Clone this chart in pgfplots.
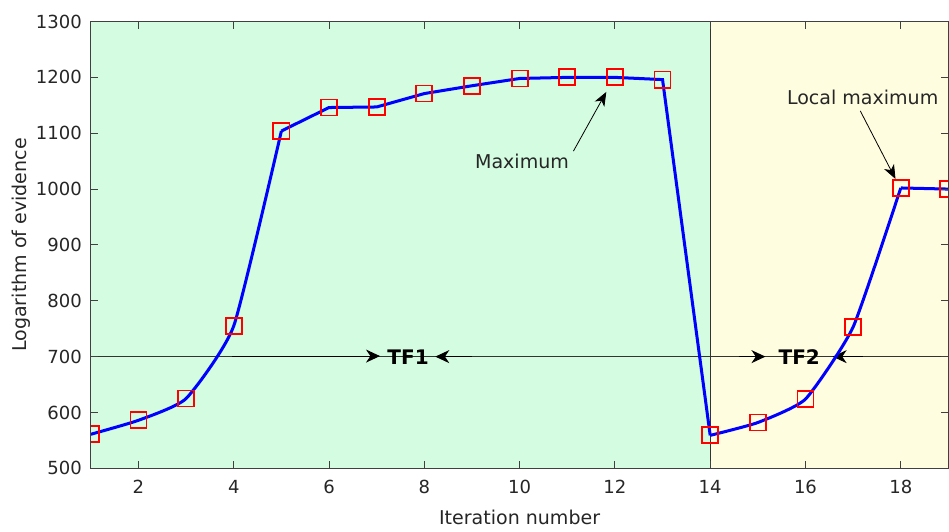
\documentclass[border=0pt]{standalone}
\usepackage{fontspec}
\setmainfont{DejaVu Sans}
\usepackage{pgfplots}
\pgfplotsset{compat=1.18}
\usetikzlibrary{arrows.meta}
\definecolor{bggreen}{RGB}{212,252,224}
\definecolor{bgyellow}{RGB}{255,253,224}
\definecolor{txt}{RGB}{38,38,38}
\begin{document}
\begin{tikzpicture}
\begin{axis}[
    scale only axis,
    width=428pt, height=223pt,
    xmin=1, xmax=19, ymin=500, ymax=1300,
    xtick={2,4,...,18},
    ytick={500,600,...,1300},
    tick align=inside,
    major tick length=3.5pt,
    tick style={color=black!75, line width=0.5pt},
    axis line style={color=black!75, line width=0.6pt},
    axis on top,
    clip=true,
    clip marker paths=true,
    /pgf/number format/1000 sep={},
    /pgf/number format/assume math mode=true,
    tick label style={font=\fontsize{9}{10}\selectfont, text=txt},
    xticklabel style={yshift=-2.5pt},
    yticklabel style={xshift=-1pt},
    label style={font=\fontsize{9.5}{11}\selectfont, text=txt},
    xlabel={Iteration number},
    ylabel={Logarithm of evidence},
    xlabel style={yshift=-1pt},
    ylabel style={yshift=-4pt},
]
% background regions
\addplot[draw=none, fill=bggreen] coordinates {(1,500)(14,500)(14,1300)(1,1300)} -- cycle;
\addplot[draw=none, fill=bgyellow] coordinates {(14,500)(19,500)(19,1300)(14,1300)} -- cycle;
% separators
\addplot[black!80, line width=0.6pt] coordinates {(14,500)(14,1300)};
\addplot[black!80, line width=0.5pt] coordinates {(1,700)(19,700)};
% TF arrows
\addplot[black, line width=0.5pt, -{Stealth[length=7pt,width=6.5pt,inset=2.2pt]}] coordinates {(3.96,701)(7.07,701)};
\addplot[black, line width=0.5pt, -{Stealth[length=7pt,width=6.5pt,inset=2.2pt]}] coordinates {(9.0,700)(8.23,700)};
\addplot[black, line width=0.5pt, -{Stealth[length=7pt,width=6.5pt,inset=2.2pt]}] coordinates {(14.6,700)(15.16,700)};
\addplot[black, line width=0.5pt, -{Stealth[length=7pt,width=6.5pt,inset=2.2pt]}] coordinates {(17.2,700)(16.57,700)};
% annotation arrows
\addplot[black, line width=0.4pt, -{Stealth[length=7pt,width=5.5pt,inset=2pt]}] coordinates {(11.13,1068)(11.82,1174)};
\addplot[black, line width=0.4pt, -{Stealth[length=7pt,width=5.5pt,inset=2pt]}] coordinates {(17.15,1140)(17.89,1018)};
% data
\addplot[blue, line width=1.5pt, smooth, tension=0.3] coordinates {
(1,561)(2,586)(3,625)(4,755)(5,1104)};
\addplot[blue, line width=1.5pt] coordinates {
(5,1104)(6,1146)(7,1147)(8,1171)(9,1185)(10,1198)(11,1200)(12,1200)(13,1196)(14,559)};
\addplot[blue, line width=1.5pt, smooth, tension=0.3] coordinates {
(14,559)(15,582)(16,624)(17,753)(18,1002)};
\addplot[blue, line width=1.5pt] coordinates {(18,1002)(19,1000)};
\addplot[only marks, mark=square, mark size=4pt, mark options={red, line width=0.9pt, fill=none}] coordinates {
(1,561)(2,586)(3,625)(4,755)(5,1104)(6,1146)(7,1147)(8,1171)(9,1185)(10,1198)(11,1200)(12,1200)(13,1196)
(14,559)(15,582)(16,624)(17,753)(18,1002)(19,1000)};
% labels
\node[font=\fontsize{9.5}{11}\selectfont, text=txt] at (axis cs:10.05,1049) {Maximum};
\node[font=\fontsize{9.5}{11}\selectfont, text=txt] at (axis cs:17.2,1165) {Local maximum};
\node[font=\bfseries\fontsize{10}{12}\selectfont] at (axis cs:7.66,699) {TF1};
\node[font=\bfseries\fontsize{10}{12}\selectfont] at (axis cs:15.87,699) {TF2};
\end{axis}
% padding as in the reference
\path ([xshift=-2.5pt,yshift=4pt]current bounding box.north west);
\end{tikzpicture}
\end{document}
